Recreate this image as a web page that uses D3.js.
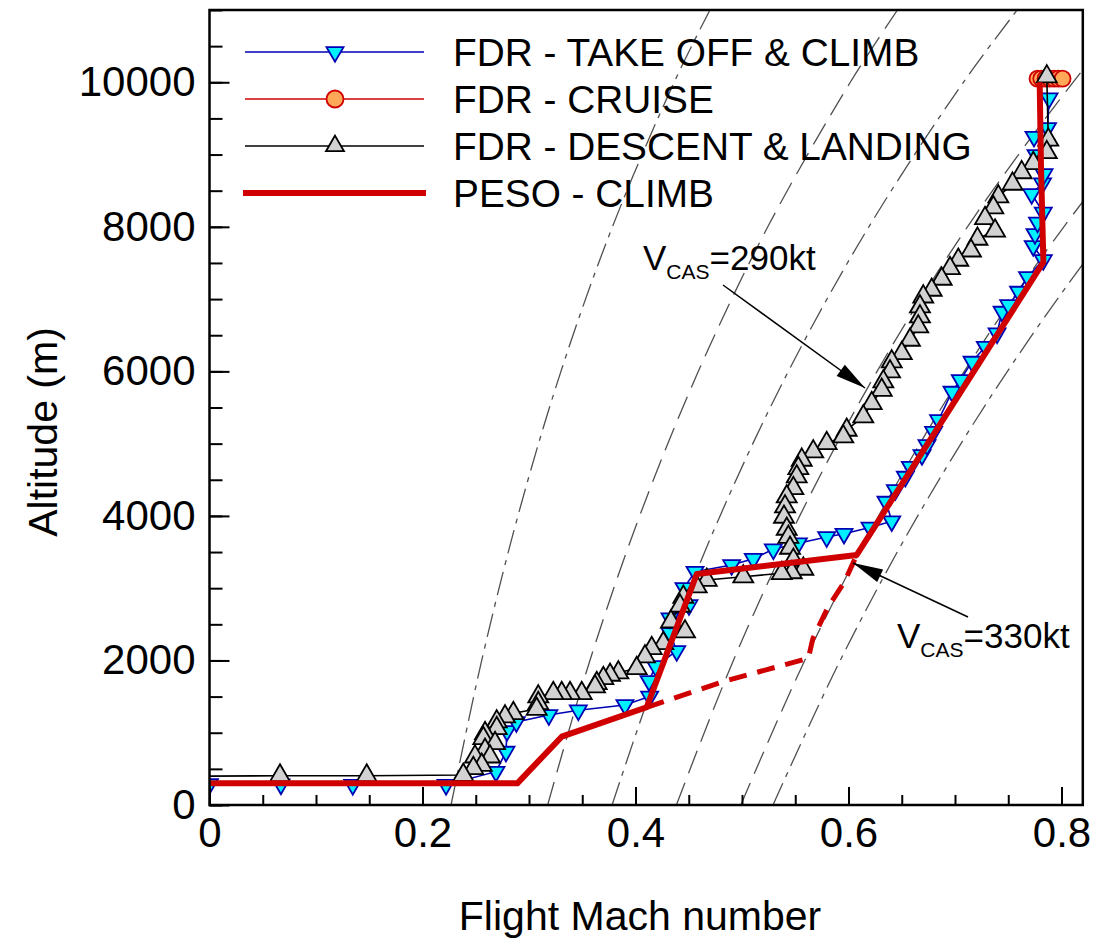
<!DOCTYPE html>
<html><head><meta charset="utf-8">
<script src="https://cdn.jsdelivr.net/npm/d3@7"></script>
<style>
body{margin:0;background:#fff}
svg{display:block}
text{font-family:"Liberation Sans",Arial,Helvetica,sans-serif;fill:#000}
</style>
</head><body>
<svg id="chart" width="1098" height="944"></svg>
<script>
// ---------------- DATA ----------------
// Constant-CAS reference lines (Mach read at several altitudes)
const casSpeeds = [150, 210, 250, 290, 330, 350];
const casStyles = ["dashdot", "dash", "dashdot", "dash", "dash", "dashdot"];
const casAlt = [0, 2000, 4000, 6000, 8000, 10000, 11000];
const casMach150 = [0.2268, 0.2556, 0.2896, 0.3300, 0.3783, 0.4363, 0.4699];
const casMach210 = [0.3175, 0.3572, 0.4039, 0.4590, 0.5242, 0.6017, 0.6460];
const casMach250 = [0.3780, 0.4247, 0.4794, 0.5435, 0.6191, 0.7079, 0.7584];
const casMach290 = [0.4384, 0.4919, 0.5542, 0.6268, 0.7117, 0.8108, 0.8666];
const casMach330 = [0.4989, 0.5589, 0.6283, 0.7087, 0.8022, 0.9102, 0.9706];
const casMach350 = [0.5291, 0.5922, 0.6650, 0.7492, 0.8465, 0.9586, 1.0212];

// FDR - TAKE OFF & CLIMB
const takeoffMach = [0.000,0.0671,0.1345,0.2221,0.2690,0.2784,0.2793,0.2881,0.3186,0.3463,
  0.3901,0.4133,0.4127,0.4188,0.4387,0.4324,0.4324,0.4502,0.4455,0.4559,
  0.4903,0.5106,0.5294,0.5529,0.5795,0.5958,0.6202,0.6406,0.6352,0.6440,
  0.6534,0.6581,0.6690,0.6737,0.6799,0.6846,0.6972,0.7050,0.7160,0.7285,
  0.7395,0.7442,0.7504,0.7597,0.7681,0.7829,0.7735,0.7751,0.7775,0.7829,
  0.7720,0.7822,0.7836,0.7761,0.7855,0.7742,0.7869,0.7883];
const takeoffAlt = [290,285,280,280,461,738,1024,1148,1245,1310,
  1384,1501,1716,1923,2131,2380,2583,2767,3003,3228,
  3321,3407,3538,3621,3708,3754,3840,3927,4197,4359,
  4543,4681,4843,4981,5165,5327,5719,5881,6134,6341,
  6527,6826,6918,7103,7306,7541,7735,7901,8060,8198,
  8454,8603,8731,8994,9132,9247,9368,9779];

// FDR - CRUISE
const cruiseMach = [0.7775, 0.7810, 0.7850, 0.7890, 0.7930, 0.7970, 0.8010];
const cruiseAlt = [10050, 10050, 10050, 10050, 10050, 10050, 10050];

// FDR - DESCENT & LANDING
const descentMach = [0.7862,0.7876,0.7862,0.7735,0.7626,0.7540,0.7407,0.7360,0.7282,0.7376,
  0.7211,0.7150,0.7031,0.6953,0.6875,0.6781,0.6702,0.6671,0.6671,0.6655,
  0.6577,0.6500,0.6406,0.6390,0.6327,0.6312,0.6218,0.6139,0.5983,0.5951,
  0.5795,0.5669,0.5561,0.5529,0.5514,0.5482,0.5420,0.5404,0.5394,0.5420,
  0.5435,0.5451,0.5482,0.5576,0.5467,0.5373,0.5012,0.4669,0.4575,0.4449,
  0.4418,0.4333,0.4465,0.4261,0.4152,0.4089,0.4011,0.3839,0.3761,0.3698,
  0.3636,0.3620,0.3495,0.3385,0.3307,0.3228,0.3087,0.3087,0.3072,0.2853,
  0.2775,0.2697,0.2697,0.2587,0.2571,0.2681,0.2587,0.2493,0.2634,0.2556,
  0.2477,0.2383,0.1476,0.0662,0.0];
const descentAlt = [10078,9202,9029,8879,8752,8593,8417,8267,8118,7945,
  7832,7669,7541,7426,7278,7126,7033,6895,6757,6618,
  6434,6250,6134,5996,5857,5742,5558,5373,5189,5096,
  5005,4889,4774,4659,4543,4382,4266,4128,3985,3819,
  3708,3556,3390,3266,3217,3206,3159,3113,3021,2878,
  2754,2536,2398,2237,2168,2052,1892,1831,1799,1753,
  1684,1637,1546,1546,1546,1546,1499,1407,1328,1269,
  1222,1153,1061,992,923,854,761,668,668,553,
  508,415,405,405,400];

// PESO - CLIMB (solid) and alternative (dashed)
const pesoMach = [0.0, 0.289, 0.3307, 0.4105, 0.4575, 0.6077, 0.7830, 0.7808, 0.7795];
const pesoAlt = [300, 300, 945, 1352, 3196, 3459, 7510, 8800, 10000];
const pesoAltMach = [0.4105, 0.4820, 0.5623, 0.5665, 0.5810, 0.5960, 0.6077];
const pesoAltAlt = [1352, 1706, 2030, 2300, 2744, 3080, 3459];

// Axis ticks
const xTicks = [0, 0.2, 0.4, 0.6, 0.8];
const yTicks = [0, 2000, 4000, 6000, 8000, 10000];
const legendLabels = ["FDR - TAKE OFF & CLIMB", "FDR - CRUISE", "FDR - DESCENT & LANDING", "PESO - CLIMB"];

// ---------------- DRAW ----------------
const svg = d3.select("#chart");
const L = 209.5, B = 805, T = 10;
const x = d3.scaleLinear().domain([0, 0.82]).range([L, L + 0.82 * 1065]);
const y = d3.scaleLinear().domain([0, 11000]).range([B, T]);
const R = x(0.82);

const BLUE = "#0000b4", CYAN = "#00f0ff", RED = "#d00000", ORANGE = "#ffa858", GRAY = "#d2d2d2";

svg.append("defs").append("clipPath").attr("id", "plotclip")
  .append("rect").attr("x", L).attr("y", T).attr("width", R - L).attr("height", B - T);

const plot = svg.append("g").attr("clip-path", "url(#plotclip)");

// CAS lines
const casMachAll = [casMach150, casMach210, casMach250, casMach290, casMach330, casMach350];
const casLine = d3.line().x(d => x(d[0])).y(d => y(d[1])).curve(d3.curveCatmullRom.alpha(0.5));
casSpeeds.forEach((v, i) => {
  const pts = casAlt.map((a, j) => [casMachAll[i][j], a]);
  plot.append("path").attr("d", casLine(pts))
    .attr("fill", "none").attr("stroke", "#505050").attr("stroke-width", 1.3)
    .attr("stroke-dasharray", casStyles[i] === "dash" ? "24,10" : "24,7,5,7");
});

const line = d3.line().x(d => x(d[0])).y(d => y(d[1]));
const tri = s => d3.symbol().type(d3.symbolTriangle).size(Math.sqrt(3) / 4 * s * s)();

// take off series
const toPts = takeoffMach.map((m, i) => [m, takeoffAlt[i]]);
plot.append("path").attr("d", line(toPts)).attr("fill", "none").attr("stroke", BLUE).attr("stroke-width", 1.6);
plot.selectAll(".to").data(toPts).enter().append("path")
  .attr("d", tri(17)).attr("transform", d => `translate(${x(d[0])},${y(d[1])}) rotate(180)`)
  .attr("fill", CYAN).attr("stroke", BLUE).attr("stroke-width", 1.8);

// cruise series
const crPts = cruiseMach.map((m, i) => [m, cruiseAlt[i]]);
plot.append("path").attr("d", line(crPts)).attr("fill", "none").attr("stroke", RED).attr("stroke-width", 1.6);
plot.selectAll(".cr").data(crPts).enter().append("circle")
  .attr("cx", d => x(d[0])).attr("cy", d => y(d[1])).attr("r", 8)
  .attr("fill", ORANGE).attr("stroke", RED).attr("stroke-width", 1.8);

// descent series
const dePts = descentMach.map((m, i) => [m, descentAlt[i]]);
plot.append("path").attr("d", line(dePts)).attr("fill", "none").attr("stroke", "#000").attr("stroke-width", 1.6);
plot.selectAll(".de").data(dePts.slice(0, dePts.length - 1)).enter().append("path")
  .attr("d", tri(20)).attr("transform", d => `translate(${x(d[0])},${y(d[1])})`)
  .attr("fill", GRAY).attr("stroke", "#000").attr("stroke-width", 1.8);

// PESO
const pAltPts = pesoAltMach.map((m, i) => [m, pesoAltAlt[i]]);
plot.append("path").attr("d", line(pAltPts)).attr("fill", "none").attr("stroke", RED)
  .attr("stroke-width", 5).attr("stroke-dasharray", "18,11");
const pPts = pesoMach.map((m, i) => [m, pesoAlt[i]]);
plot.append("path").attr("d", line(pPts)).attr("fill", "none").attr("stroke", RED)
  .attr("stroke-width", 6).attr("stroke-linejoin", "round");

// Axes
function styleAxis(g) {
  g.select(".domain").remove();
  g.selectAll(".tick line").attr("stroke", "#000").attr("stroke-width", 2);
  g.selectAll(".tick text").attr("font-size", 42).attr("fill", "#000")
    .attr("font-family", '"Liberation Sans",Arial,sans-serif');
}
svg.append("g").attr("transform", `translate(${L},0)`)
  .call(d3.axisLeft(y).tickValues(d3.range(0, 11001, 500)).tickSize(-13).tickFormat(""))
  .call(styleAxis);
svg.append("g").attr("transform", `translate(${L},0)`)
  .call(d3.axisLeft(y).tickValues(yTicks).tickSize(-20).tickPadding(14).tickFormat(d3.format("d")))
  .call(styleAxis);
svg.append("g").attr("transform", `translate(0,${B})`)
  .call(d3.axisBottom(x).tickValues(d3.range(0, 16).map(i => i * 0.05)).tickSize(-10).tickFormat(""))
  .call(styleAxis);
svg.append("g").attr("transform", `translate(0,${B})`)
  .call(d3.axisBottom(x).tickValues(xTicks).tickSize(-18).tickPadding(12).tickFormat(d => d === 0 ? "0" : d3.format(".1f")(d)))
  .call(styleAxis);

// Frame
svg.append("rect").attr("x", L).attr("y", T).attr("width", R - L).attr("height", B - T)
  .attr("fill", "none").attr("stroke", "#000").attr("stroke-width", 2.5);

// Axis titles
svg.append("text").attr("x", 640).attr("y", 930).attr("text-anchor", "middle")
  .attr("font-size", 41).text("Flight Mach number");
svg.append("text").attr("transform", "translate(57,432) rotate(-90)").attr("text-anchor", "middle")
  .attr("font-size", 41).text("Altitude (m)");

// Legend
const legY = [52, 99, 146, 193];
const lg = svg.append("g");
legY.forEach((ly, i) => {
  if (i === 3) {
    lg.append("line").attr("x1", 243).attr("x2", 426).attr("y1", ly).attr("y2", ly)
      .attr("stroke", RED).attr("stroke-width", 6);
  } else {
    lg.append("line").attr("x1", 245).attr("x2", 424).attr("y1", ly).attr("y2", ly)
      .attr("stroke", [BLUE, RED, "#000"][i]).attr("stroke-width", 1.6);
  }
  if (i === 0) lg.append("path").attr("d", tri(17)).attr("transform", `translate(335,${ly}) rotate(180)`)
    .attr("fill", CYAN).attr("stroke", BLUE).attr("stroke-width", 1.8);
  if (i === 1) lg.append("circle").attr("cx", 335).attr("cy", ly).attr("r", 8.5)
    .attr("fill", ORANGE).attr("stroke", RED).attr("stroke-width", 1.8);
  if (i === 2) lg.append("path").attr("d", tri(18)).attr("transform", `translate(335,${ly})`)
    .attr("fill", GRAY).attr("stroke", "#000").attr("stroke-width", 1.8);
  lg.append("text").attr("x", 453).attr("y", ly + 13.5).attr("font-size", 38.8).text(legendLabels[i]);
});

// Annotations
function casLabel(tx, ty, speed) {
  const t = svg.append("text").attr("x", tx).attr("y", ty).attr("font-size", 35);
  t.append("tspan").text("V");
  t.append("tspan").attr("font-size", 21).attr("dy", 9).text("CAS");
  t.append("tspan").attr("dy", -9).text("=" + speed + "kt");
}
function arrow(x1, y1, x2, y2) {
  svg.append("line").attr("x1", x1).attr("y1", y1).attr("x2", x2).attr("y2", y2)
    .attr("stroke", "#000").attr("stroke-width", 1.5);
  const a = Math.atan2(y2 - y1, x2 - x1), len = 30, w = 7;
  const bx = x2 - len * Math.cos(a), by = y2 - len * Math.sin(a);
  const px = -Math.sin(a) * w, py = Math.cos(a) * w;
  svg.append("polygon").attr("points", `${x2},${y2} ${bx + px},${by + py} ${bx - px},${by - py}`)
    .attr("fill", "#000");
}
casLabel(643, 270, 290);
arrow(723, 285, 865, 388);
casLabel(897, 648, 330);
arrow(968, 617, 853, 563);
</script>
</body></html>
